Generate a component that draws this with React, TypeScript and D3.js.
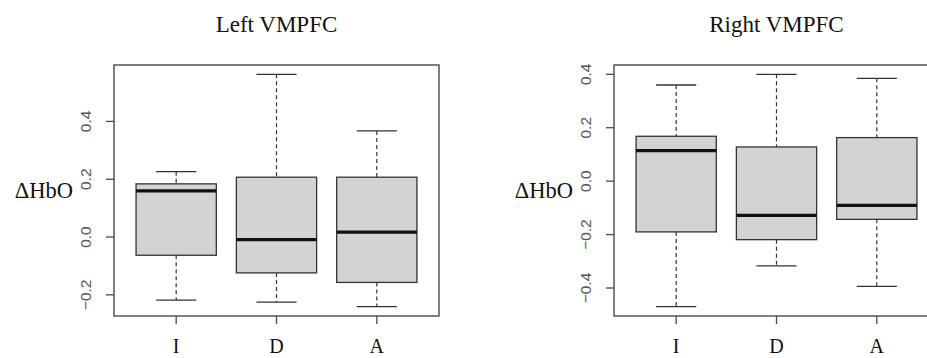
import * as d3 from "d3";

// five-number summaries: [lower whisker, Q1, median, Q3, upper whisker]
const groups = ["I", "D", "A"];

const leftI = [-0.218, -0.063, 0.16, 0.184, 0.226];
const leftD = [-0.225, -0.124, -0.009, 0.207, 0.563];
const leftA = [-0.241, -0.157, 0.017, 0.207, 0.367];

const rightI = [-0.47, -0.19, 0.114, 0.168, 0.36];
const rightD = [-0.317, -0.219, -0.128, 0.128, 0.4];
const rightA = [-0.394, -0.143, -0.091, 0.163, 0.385];

const leftTicks = [-0.2, 0.0, 0.2, 0.4];
const rightTicks = [-0.4, -0.2, 0.0, 0.2, 0.4];

const W = 927;
const H = 358;

interface PanelProps {
  title: string;
  stats: number[][];
  ticks: number[];
  left: number;
}

const serif = "Liberation Serif";
const sans = "Liberation Sans";

function Panel({ title, stats, ticks, left }: PanelProps) {
  const top = 65;
  const bottom = 316;
  const plotW = 325;
  const n = groups.length;

  // R style: 4% extension on both axes
  const lo = d3.min(stats, (s) => s[0]) as number;
  const hi = d3.max(stats, (s) => s[4]) as number;
  const pad = (hi - lo) * 0.04;
  const y = d3.scaleLinear().domain([lo - pad, hi + pad]).range([bottom, top]);

  const x = d3
    .scaleLinear()
    .domain([0.5 - 0.04 * n, n + 0.5 + 0.04 * n])
    .range([left, left + plotW]);
  const boxW = (x(1) - x(0)) * 0.8;
  const capW = boxW * 0.5;

  const frame = "#4a4a4a";

  return (
    <g>
      <text x={left + plotW / 2} y={32} textAnchor="middle" fontFamily={serif} fontSize={23} fill="#111">
        {title}
      </text>
      <text x={left - 41} y={198} textAnchor="end" fontFamily={serif} fontSize={22.5} fill="#111">
        ΔHbO
      </text>

      {/* y axis */}
      {ticks.map((t) => (
        <g key={t}>
          <line x1={left - 8} x2={left} y1={y(t)} y2={y(t)} stroke={frame} strokeWidth={1.3} />
          <text
            transform={`translate(${left - 23},${y(t)}) rotate(-90)`}
            textAnchor="middle"
            fontFamily={sans}
            fontSize={15.5}
            fill="#555"
          >
            {d3.format(".1f")(t)}
          </text>
        </g>
      ))}

      {/* boxes */}
      {stats.map((s, i) => {
        const cx = x(i + 1);
        return (
          <g key={groups[i]}>
            <line x1={cx} x2={cx} y1={y(s[4])} y2={y(s[3])} stroke="#333" strokeWidth={1.2} strokeDasharray="4,3" />
            <line x1={cx} x2={cx} y1={y(s[1])} y2={y(s[0])} stroke="#333" strokeWidth={1.2} strokeDasharray="4,3" />
            <line x1={cx - capW / 2} x2={cx + capW / 2} y1={y(s[4])} y2={y(s[4])} stroke="#333" strokeWidth={1.3} />
            <line x1={cx - capW / 2} x2={cx + capW / 2} y1={y(s[0])} y2={y(s[0])} stroke="#333" strokeWidth={1.3} />
            <rect
              x={cx - boxW / 2}
              y={y(s[3])}
              width={boxW}
              height={y(s[1]) - y(s[3])}
              fill="#d3d3d3"
              stroke="#333"
              strokeWidth={1.3}
            />
            <line x1={cx - boxW / 2} x2={cx + boxW / 2} y1={y(s[2])} y2={y(s[2])} stroke="#111" strokeWidth={3.2} />
          </g>
        );
      })}

      {/* x axis */}
      {groups.map((g, i) => (
        <g key={g}>
          <line x1={x(i + 1)} x2={x(i + 1)} y1={bottom} y2={bottom + 8} stroke={frame} strokeWidth={1.3} />
          <text x={x(i + 1)} y={353} textAnchor="middle" fontFamily={serif} fontSize={20} fill="#111">
            {g}
          </text>
        </g>
      ))}

      <rect x={left} y={top} width={plotW} height={bottom - top} fill="none" stroke={frame} strokeWidth={1.4} />
    </g>
  );
}

export default function App() {
  return (
    <svg width={W} height={H} style={{ position: "absolute", left: 0, top: 0, background: "#fff", overflow: "hidden" }}>
      <rect width={W} height={H} fill="#fff" />
      <Panel title="Left VMPFC" stats={[leftI, leftD, leftA]} ticks={leftTicks} left={114} />
      <Panel title="Right VMPFC" stats={[rightI, rightD, rightA]} ticks={rightTicks} left={614} />
    </svg>
  );
}
